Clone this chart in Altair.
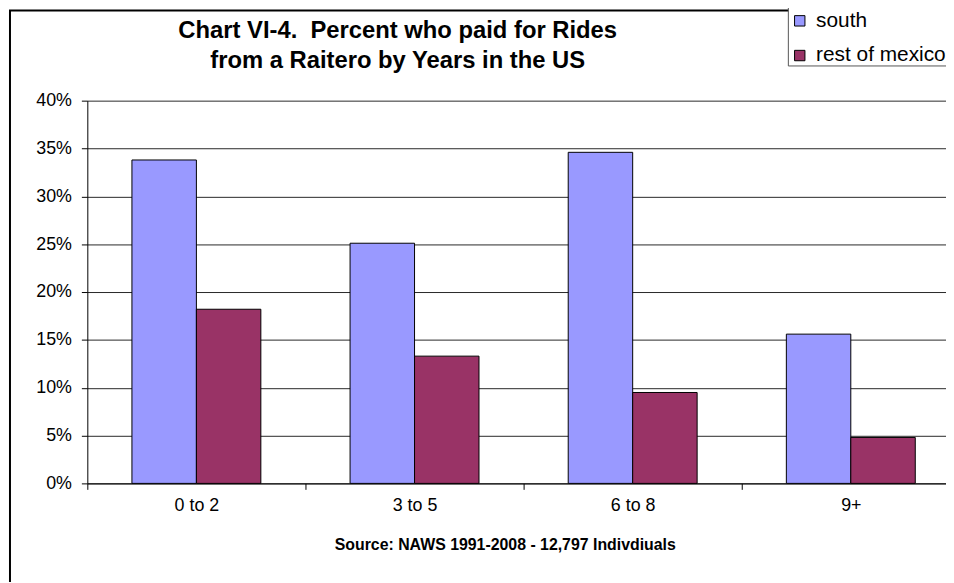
import altair as alt
import pandas as pd

categories = ["0 to 2", "3 to 5", "6 to 8", "9+"]
series = ["south", "rest of mexico"]
south = [0.338, 0.251, 0.346, 0.156]
rest = [0.182, 0.133, 0.095, 0.048]
colors = ["#9999FF", "#993366"]
y_ticks = [0, 0.05, 0.10, 0.15, 0.20, 0.25, 0.30, 0.35, 0.40]

rows = []
for c, s, r in zip(categories, south, rest):
    rows.append({"years": c, "series": "south", "pct": s})
    rows.append({"years": c, "series": "rest of mexico", "pct": r})
df = pd.DataFrame(rows)

FONT = "Liberation Sans"

bars = alt.Chart(df).mark_bar(stroke="black", strokeWidth=1).encode(
    x=alt.X(
        "years:N",
        sort=categories,
        scale=alt.Scale(range=[0, 880], paddingInner=0, paddingOuter=0),
        axis=alt.Axis(
            title="Source: NAWS 1991-2008 - 12,797 Indivdiuals",
            titleFont=FONT, titleFontSize=16, titleFontWeight="bold",
            titleColor="black", titlePadding=23, titleX=421, titleAlign="center",
            labelFont=FONT, labelFontSize=18, labelColor="black",
            labelAngle=0, labelPadding=7,
            tickBand="extent", tickSize=6, tickColor="black",
            domainColor="black", grid=False,
        ),
    ),
    xOffset=alt.XOffset(
        "series:N", sort=series,
        scale=alt.Scale(paddingInner=0, paddingOuter=0.692),
    ),
    y=alt.Y(
        "pct:Q",
        scale=alt.Scale(domain=[0, 0.4], nice=False),
        axis=alt.Axis(
            title=None, values=y_ticks, format=".0%",
            labelFont=FONT, labelFontSize=18, labelColor="black",
            labelPadding=10, tickSize=6, tickColor="black",
            domainColor="black", grid=True, gridColor="black",
            gridOpacity=0.85,
        ),
    ),
    color=alt.Color(
        "series:N", sort=series,
        scale=alt.Scale(domain=series, range=colors),
        legend=alt.Legend(
            title=None, orient="none", legendX=707, legendY=-92,
            labelFont=FONT, labelFontSize=21, labelColor="black",
            labelOffset=6,
            symbolType="square", symbolSize=110,
            symbolStrokeColor="black", symbolStrokeWidth=1,
            padding=1, rowPadding=13,
        ),
    ),
)

frame = alt.Chart(alt.Data(values=[{"a": 1}])).mark_rect(
    fill=None, stroke="black", strokeWidth=2
).encode(
    x=alt.value(-78), x2=alt.value(1000), y=alt.value(-91), y2=alt.value(700)
)

legend_box = alt.Chart(alt.Data(values=[{"a": 1}])).mark_rect(
    fill="white", stroke="#555555", strokeWidth=1
).encode(
    x=alt.value(707), x2=alt.value(1000), y=alt.value(-100), y2=alt.value(-35)
)

chart = alt.layer(frame, legend_box, bars).properties(
    width=866,
    height=386,
    autosize=alt.AutoSizeParams(type="none"),
    padding={"left": 80, "top": 91, "right": 0, "bottom": 97},
    title=alt.Title(
        ["Chart VI-4.\u00a0 Percent who paid for Rides", "from a Raitero by Years in the US"],
        font=FONT, fontSize=24, fontWeight="bold", color="black",
        anchor="middle", frame="group", dx=-120, dy=104, offset=31, lineHeight=31,
    ),
).configure_view(stroke=None)

chart.save("out.html", embed_options={"renderer": "svg", "actions": False})
